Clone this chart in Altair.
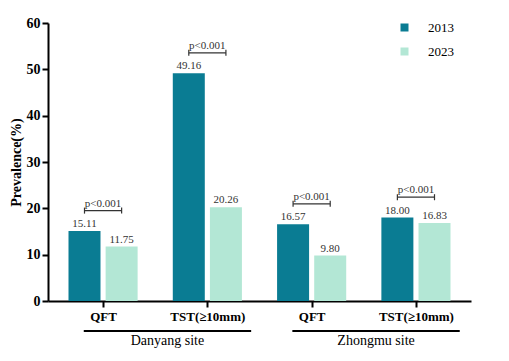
import json
import altair as alt
import pandas as pd

categories = ["QFT", "TST(≥10mm)", "QFT", "TST(≥10mm)"]
sites = ["Danyang site", "Zhongmu site"]
years = ["2013", "2023"]
values_2013 = [15.11, 49.16, 16.57, 18.00]
values_2023 = [11.75, 20.26, 9.80, 16.83]
p_values = ["p<0.001", "p<0.001", "p<0.001", "p<0.001"]
y_ticks = [0, 10, 20, 30, 40, 50, 60]
colors = ["#0a7c93", "#b3e7d5"]

FONT = "Liberation Serif"
OFF = 0.178

bar_rows = []
for i in range(len(categories)):
    bar_rows.append({"pos": i - OFF, "year": years[0], "value": values_2013[i]})
    bar_rows.append({"pos": i + OFF, "year": years[1], "value": values_2023[i]})
bars_df = pd.DataFrame(bar_rows)

br_rows, tick_rows = [], []
for i in range(len(categories)):
    yb = max(values_2013[i], values_2023[i]) + 4.4
    br_rows.append({"x1": i - OFF, "x2": i + OFF, "xm": i, "y": yb, "label": p_values[i]})
    for xx in (i - OFF, i + OFF):
        tick_rows.append({"x": xx, "ylo": yb - 0.65, "yhi": yb + 0.65})
br_df = pd.DataFrame(br_rows)
tick_df = pd.DataFrame(tick_rows)

site_rows = []
for s, name in enumerate(sites):
    a, b = 2 * s - 0.185, 2 * s + 1.42
    site_rows.append({"x1": a, "x2": b, "xm": (a + b) / 2, "site": name})
site_df = pd.DataFrame(site_rows)

xscale = alt.Scale(domain=[-0.48, 3.48], nice=False, zero=False)
yscale = alt.Scale(domain=[0, 60], nice=False)
label_expr = json.dumps(categories) + "[datum.value]"
xaxis = alt.Axis(values=[0, 1, 2, 3], labelExpr=label_expr, title=None, grid=False,
                 domainColor="black", domainWidth=2, tickColor="black", tickWidth=2,
                 tickSize=6, labelFont=FONT, labelFontWeight="bold", labelFontSize=13,
                 labelColor="black", labelPadding=3)
yaxis = alt.Axis(values=y_ticks, title="Prevalence(%)", grid=False, domainColor="black",
                 domainWidth=2, tickColor="black", tickWidth=2, tickSize=6,
                 labelFont=FONT, labelFontWeight="bold", labelFontSize=14,
                 labelColor="black", labelPadding=2, titleFont=FONT,
                 titleFontWeight="bold", titleFontSize=14, titleColor="black",
                 titlePadding=3)

def xq(field):
    return alt.X(f"{field}:Q", scale=xscale, axis=xaxis)

def yq(field):
    return alt.Y(f"{field}:Q", scale=yscale, axis=yaxis)

bars = alt.Chart(bars_df).mark_bar(size=32).encode(
    x=xq("pos"),
    y=yq("value"),
    color=alt.Color("year:N", scale=alt.Scale(domain=years, range=colors),
                    legend=alt.Legend(orient="none", legendX=350, legendY=-2,
                                      title=None, symbolType="square", symbolSize=64,
                                      symbolStrokeWidth=0, labelFont=FONT,
                                      labelFontSize=13, labelColor="black",
                                      labelOffset=17, rowPadding=10, padding=0)),
)

vals = alt.Chart(bars_df).mark_text(font=FONT, fontSize=11, color="#333333",
                                    baseline="bottom", dy=-2).encode(
    x=xq("pos"), y=yq("value"), text=alt.Text("value:Q", format=".2f"))

hline = alt.Chart(br_df).mark_rule(color="#333333", strokeWidth=1.2).encode(
    x=xq("x1"), x2="x2:Q", y=yq("y"))
vticks = alt.Chart(tick_df).mark_rule(color="#333333", strokeWidth=1.2).encode(
    x=xq("x"), y=yq("ylo"), y2="yhi:Q")
ptext = alt.Chart(br_df).mark_text(font=FONT, fontSize=11, color="#333333",
                                   baseline="bottom", dy=-2).encode(
    x=xq("xm"), y=yq("y"), text="label:N")

sline = alt.Chart(site_df).mark_rule(color="black", strokeWidth=2).encode(
    x=xq("x1"), x2="x2:Q", y=alt.value(308))
stext = alt.Chart(site_df).mark_text(font=FONT, fontSize=14, color="black",
                                     baseline="middle").encode(
    x=xq("xm"), y=alt.value(318), text="site:N")

chart = alt.layer(bars, vals, hline, vticks, ptext, sline, stext).properties(
    width=423, height=278,
    autosize=alt.AutoSizeParams(type="none"),
    padding={"left": 40, "top": 15, "right": 30, "bottom": 50},
    background="white",
).configure_view(stroke=None)

chart.save("out.html", embed_options={"renderer": "svg", "actions": False})
